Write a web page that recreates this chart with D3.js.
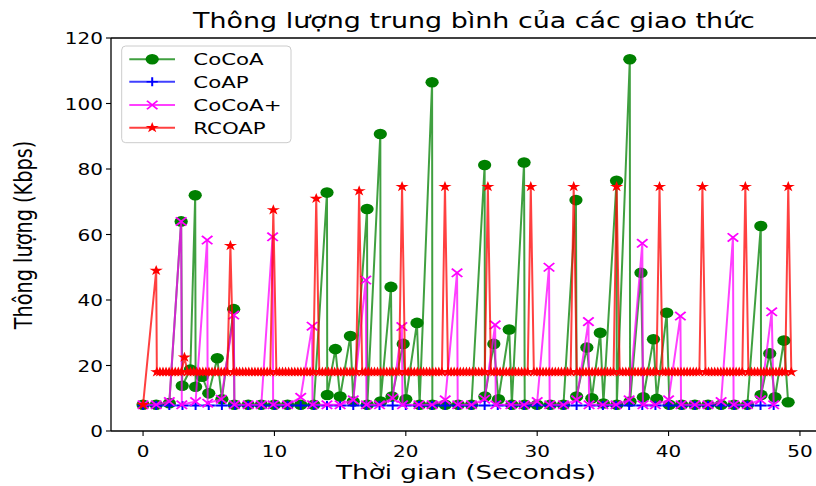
<!DOCTYPE html>
<html><head><meta charset="utf-8">
<script src="https://cdn.jsdelivr.net/npm/d3@7"></script>
<style>body{margin:0;background:#fff} svg{display:block}</style>
</head><body><svg id="c" width="816" height="486"></svg>
<script>
// ---------- data ----------
const xTicks = [0, 10, 20, 30, 40, 50];
const yTicks = [0, 20, 40, 60, 80, 100, 120];
const seriesNames = ["CoCoA", "CoAP", "CoCoA+", "RCOAP"];

const cocoaTime = [0,1,2,2.9,2.98,3.6,3.97,4.0,4.5,5.0,5.65,6.0,6.9,6.95,8,9,10,11,12,13,14.0,14.02,14.64,15.0,15.78,16.0,17.05,17.07,18.06,18.08,18.87,18.95,19.8,20.0,20.85,21.05,22.0,22.02,23,24,25,26.0,26.02,26.7,27.05,27.87,28.07,29.0,29.05,30,31,32,32.95,33.0,33.78,34.16,34.8,35.04,36.04,36.06,37.05,37.07,37.9,38.08,38.85,39.1,39.86,40.06,41,42,43,44,45,46,47.02,47.04,47.7,48.1,48.78,49.1];
const cocoaValue = [8,8,8.5,64,13.8,18.8,72,13.5,16.6,11.5,22.2,9.7,37.2,8,8,8,8,8,8,8,72.8,11,25,10.5,29,9,67.8,8,90.7,9,44,10.5,26.6,9.7,33,8,106.5,8,8,8,8,81.2,10.5,26.6,9.7,31,8,82,8,8,8,8,70.5,10.5,25.5,10,30,8.4,76.4,8,113.5,9,48.3,10.3,28,9.8,36.1,8,8,8,8,8,8,8,62.6,11,23.7,10.3,27.6,8.8];

const coapTime = [0,1,2,3,4,5,6,7,8,9,10,11,12,13,14,15,16,17,18,19,20,21,22,23,24,25,26,27,28,29,30,31,32,33,34,35,36,37,38,39,40,41,42,43,44,45,46,47,48];
const coapValue = [7.8,7.8,7.8,7.8,7.8,7.8,7.8,7.8,7.8,7.8,7.8,7.8,7.8,7.8,7.8,7.8,7.8,7.8,7.8,7.8,7.8,7.8,7.8,7.8,7.8,7.8,7.8,7.8,7.8,7.8,7.8,7.8,7.8,7.8,7.8,7.8,7.8,7.8,7.8,7.8,7.8,7.8,7.8,7.8,7.8,7.8,7.8,7.8,7.8];

const cocoaPlusTime = [0,1,2,2.9,2.95,4,4.88,4.92,5.95,6.9,6.95,8,9,9.86,9.9,11,12,12.87,12.9,14,15,16,16.95,17.0,18,19,19.7,19.75,21,22,23,23.9,23.95,25,26,26.8,26.85,28,29,30,30.9,30.95,32,33,33.9,33.95,35,36,37,38.0,38.05,39,40,40.9,40.95,42,43,44,44.9,44.95,46,47,47.85,48.0];
const cocoaPlusValue = [8,8,9,64,8,9,58.3,8.5,9.7,35.4,8,8,8,59.3,8,8,10.3,32,8,8,8,9.5,46.1,8,8,10,31.9,8,8,8,9.5,48.3,8,8,9.7,32.4,8,8,8,9,50,8,8,9.5,33.4,8,8,8,9.5,57.3,8,8,9.5,35.1,8,8,8,9,59.1,8,8,9.5,36.4,8];

const rcoapHeadTime = [0, 1];
const rcoapHeadValue = [8, 49];
const rcoapFlatStart = 1.05, rcoapStep = 0.2333;   // sampling interval of the dense part
const rcoapFlatValue = [
 18,18,18,18,18,18,18,18,18,22.5,18,18,18,18,
 18,18,18,18,18,18,18,18,18,18,56.6,18,18,18,
 18,18,18,18,18,18,18,18,18,18,67.5,18,18,18,
 18,18,18,18,18,18,18,18,18,18,71,18,18,18,
 18,18,18,18,18,18,18,18,18,18,73.3,18,18,18,
 18,18,18,18,18,18,18,18,18,18,74.6,18,18,18,
 18,18,18,18,18,18,18,18,18,18,74.6,18,18,18,
 18,18,18,18,18,18,18,18,18,18,74.6,18,18,18,
 18,18,18,18,18,18,18,18,18,18,74.6,18,18,18,
 18,18,18,18,18,18,18,18,18,18,74.6,18,18,18,
 18,18,18,18,18,18,18,18,18,18,74.6,18,18,18,
 18,18,18,18,18,18,18,18,18,18,74.6,18,18,18,
 18,18,18,18,18,18,18,18,18,18,74.6,18,18,18,
 18,18,18,18,18,18,18,18,18,18,74.6,18,18,18,
 18,18,18,18,18,18,18,18,18,18,74.6,18
];

// ---------- layout ----------
const SX = 1.25;   // horizontal stretch of markers
const TX = 1.3;    // horizontal stretch of glyphs
const L = 111, R = 819, T = 38, B = 431;
const svg = d3.select("#c");
const x = d3.scaleLinear().domain([-2.44, 51.45]).range([L, R]);
const y = d3.scaleLinear().domain([0, 120]).range([B, T]);
const FONT = "DejaVu Sans, sans-serif";

svg.append("defs").append("clipPath").attr("id","clip")
  .append("rect").attr("x",L).attr("y",T).attr("width",R-L).attr("height",B-T);

function toPts(ts, vs){ return ts.map((t,i)=>[t, vs[i]]); }
const rcoapPts = toPts(rcoapHeadTime, rcoapHeadValue)
  .concat(rcoapFlatValue.map((v,i)=>[rcoapFlatStart + i*rcoapStep, v]));

const series = [
  {name:seriesNames[0], color:"#008000", marker:"circle", pts:toPts(cocoaTime,cocoaValue)},
  {name:seriesNames[1], color:"#0000ff", marker:"plus",   pts:toPts(coapTime,coapValue)},
  {name:seriesNames[2], color:"#ff00ff", marker:"x",      pts:toPts(cocoaPlusTime,cocoaPlusValue)},
  {name:seriesNames[3], color:"#ff0000", marker:"star",   pts:rcoapPts}
];

function starPath(Ro){
  const Ri = Ro*0.382, p=[];
  for(let i=0;i<10;i++){const a=-Math.PI/2+i*Math.PI/5, r=i%2?Ri:Ro; p.push([r*Math.cos(a), r*Math.sin(a)]);}
  return "M"+p.map(d=>d[0].toFixed(2)+","+d[1].toFixed(2)).join("L")+"Z";
}
function drawMarker(g, type, color, cx, cy){
  const m = g.append("g").attr("transform",`translate(${cx},${cy}) scale(${SX},1)`);
  if(type==="circle") m.append("circle").attr("r",5.3).attr("fill",color);
  else if(type==="plus") m.append("path").attr("d","M-4.5,0H4.5M0,-4.5V4.5").attr("stroke",color).attr("stroke-width",1.6).attr("fill","none");
  else if(type==="x") m.append("path").attr("d","M-4.2,-4.2L4.2,4.2M-4.2,4.2L4.2,-4.2").attr("stroke",color).attr("stroke-width",1.6).attr("fill","none");
  else if(type==="star") m.append("path").attr("d",starPath(5.6)).attr("fill",color);
}

const plot = svg.append("g").attr("clip-path","url(#clip)");
const line = d3.line().x(d=>x(d[0])).y(d=>y(d[1]));
series.forEach(s=>{
  const g = plot.append("g");
  g.append("path").attr("d",line(s.pts)).attr("fill","none").attr("stroke",s.color)
   .attr("stroke-width",2).attr("stroke-opacity",0.75).attr("stroke-linejoin","round");
  s.pts.forEach(d=>drawMarker(g, s.marker, s.color, x(d[0]), y(d[1])));
});

// ---------- axes ----------
const ax = svg.append("g").attr("stroke","#000");
ax.append("line").attr("x1",L).attr("x2",L).attr("y1",T).attr("y2",B).attr("stroke-width",1.3);
ax.append("line").attr("x1",L).attr("x2",R).attr("y1",B).attr("y2",B).attr("stroke-width",1.3);
ax.append("line").attr("x1",L).attr("x2",R).attr("y1",T).attr("y2",T).attr("stroke-width",1.3);
ax.append("line").attr("x1",R).attr("x2",R).attr("y1",T).attr("y2",B).attr("stroke-width",1.3);

function sText(txt, px, py, size, anchor, rot){
  return svg.append("text").attr("transform",`translate(${px},${py}) scale(${TX},1)` + (rot?` rotate(${rot})`:""))
    .attr("font-family",FONT).attr("font-size",size).attr("fill","#000").attr("text-anchor",anchor).text(txt);
}
xTicks.forEach(v=>{
  ax.append("line").attr("x1",x(v)).attr("x2",x(v)).attr("y1",B).attr("y2",B+5).attr("stroke-width",1.1);
  sText(String(v), x(v), B+26, 15.4, "middle");
});
yTicks.forEach(v=>{
  ax.append("line").attr("x1",L-5).attr("x2",L).attr("y1",y(v)).attr("y2",y(v)).attr("stroke-width",1.1);
  sText(String(v), L-8, y(v)+6, 15.4, "end");
});

sText("Thông lượng trung bình của các giao thức", 474, 28, 20.7, "middle");
sText("Thời gian (Seconds)", 466, 479, 20.2, "middle");
sText("Thông lượng (Kbps)", 32, 235, 19.3, "middle", -90);

// ---------- legend ----------
const lg = svg.append("g");
lg.append("rect").attr("x",121.7).attr("y",46).attr("width",169.3).attr("height",96.7).attr("rx",4)
  .attr("fill","#fff").attr("fill-opacity",0.8).attr("stroke","#cccccc").attr("stroke-width",1);
const rowY = [59.3, 81.7, 105, 127.7];
series.forEach((s,i)=>{
  lg.append("line").attr("x1",129.3).attr("x2",175).attr("y1",rowY[i]).attr("y2",rowY[i])
    .attr("stroke",s.color).attr("stroke-width",2).attr("stroke-opacity",0.75);
  drawMarker(lg, s.marker, s.color, 152.2, rowY[i]);
  sText(s.name, 193.3, rowY[i]+6, 16.4, "start");
});
</script></body></html>
